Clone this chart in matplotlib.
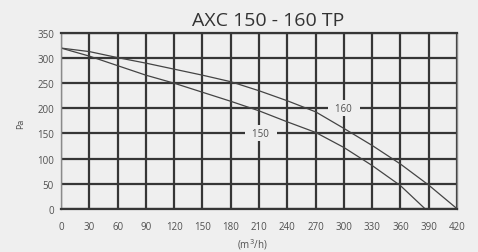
import matplotlib.pyplot as plt

plt.rcParams['font.family'] = ['Open Sans', 'DejaVu Sans']

# airflow (m3/h) vs pressure (Pa)
flow_160 = [0, 30, 60, 90, 120, 150, 180, 210, 240, 270, 300, 330, 360, 390, 420]
pa_160 = [320, 313, 301, 290, 278, 266, 253, 235, 215, 193, 160, 126, 89, 47, 0]

flow_150 = [0, 30, 60, 90, 120, 150, 180, 210, 240, 270, 300, 330, 360, 386]
pa_150 = [320, 304, 285, 266, 250, 232, 214, 195, 173, 152, 122, 86, 46, 0]

x_ticks = list(range(0, 421, 30))
y_ticks = list(range(0, 351, 50))

bg = '#efefef'
grid_col = '#363636'
text_col = '#505050'

fig = plt.figure(figsize=(4.78, 2.53), dpi=100, facecolor=bg)
ax = fig.add_axes([0.1276, 0.1711, 0.8285, 0.6945], facecolor=bg)

ax.plot(flow_160, pa_160, color='#444444', lw=0.9, zorder=2)
ax.plot(flow_150, pa_150, color='#444444', lw=0.9, zorder=2)

ax.set_xlim(0, 420)
ax.set_ylim(0, 350)
ax.set_xticks(x_ticks)
ax.set_yticks(y_ticks)
ax.tick_params(length=0, labelsize=7, colors=text_col)
ax.tick_params(axis='x', pad=9)
ax.tick_params(axis='y', pad=5)
ax.set_axisbelow(True)
ax.grid(True, color=grid_col, lw=1.6)

for side in ['left', 'right']:
    ax.spines[side].set_color('#8a8a8a')
    ax.spines[side].set_linewidth(1.0)
for side in ['top', 'bottom']:
    ax.spines[side].set_color(grid_col)
    ax.spines[side].set_linewidth(1.6)

label_box = dict(facecolor=bg, edgecolor='none', boxstyle='square,pad=0.25')
ax.text(300, 200, '  160  ', fontsize=7, color=text_col, ha='center', va='center',
        bbox=label_box, zorder=3)
ax.text(212, 150, '  150  ', fontsize=7, color=text_col, ha='center', va='center',
        bbox=label_box, zorder=3)

fig.text(268 / 478, 1 - 21 / 253, 'AXC 150 - 160 TP', fontsize=14, color='#333333',
         ha='center', va='center')
fig.text(21 / 478, 1 - 124 / 253, 'Pa', fontsize=6.5, color=text_col, rotation=90,
         ha='center', va='center')
fig.text(252 / 478, 1 - 245 / 253, '(m$^3$/h)', fontsize=7, color=text_col,
         ha='center', va='center')

fig.savefig('out.png', dpi=100, facecolor=bg)
